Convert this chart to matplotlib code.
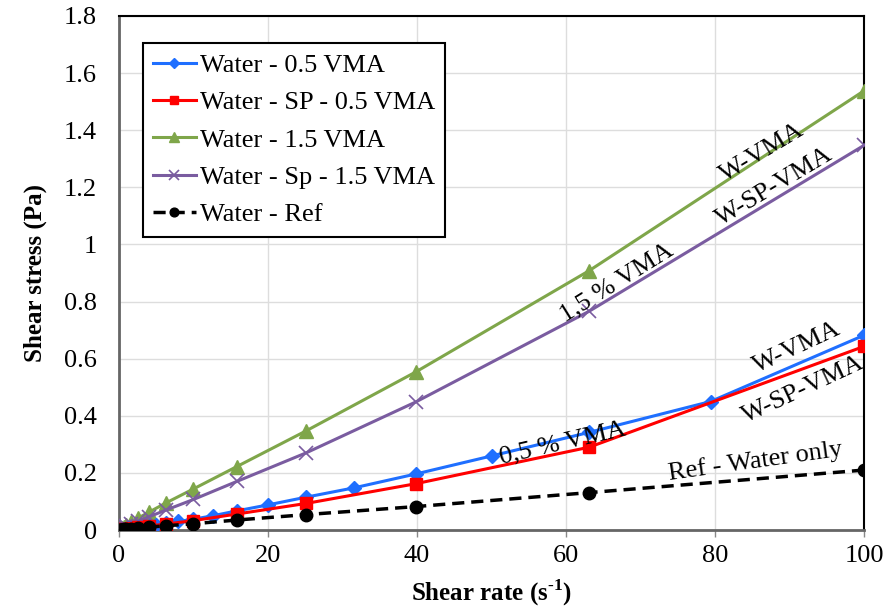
import numpy as np
import matplotlib as mpl
mpl.use('agg')
import matplotlib.pyplot as plt

plt.rcParams['font.family'] = ['Liberation Serif', 'DejaVu Serif']
plt.rcParams['mathtext.fontset'] = 'custom'
plt.rcParams['mathtext.rm'] = 'Liberation Serif'
plt.rcParams['mathtext.bf'] = 'Liberation Serif:bold'

# shear rate steps (1/s), logarithmic sweep
rate_fine = [100, 79.4, 63.1, 50.1, 39.8, 31.6, 25.1, 20.0, 15.8, 12.6, 10.0,
             7.94, 6.31, 5.01, 3.98, 3.16, 2.51, 2.0, 1.58, 1.26, 1.0,
             0.79, 0.63, 0.5, 0.4, 0.32, 0.25, 0.2, 0.16, 0.13, 0.1]
rate_coarse = [100, 63.1, 39.8, 25.1, 15.8, 10.0, 6.31, 3.98, 2.51, 1.58, 1.0,
               0.63, 0.4, 0.25, 0.16, 0.1]

w_05vma = [0.682, 0.450, 0.342, 0.260, 0.196, 0.148, 0.115, 0.088, 0.067, 0.050, 0.038,
           0.030, 0.024, 0.019, 0.015, 0.012, 0.010, 0.008, 0.007, 0.006, 0.005,
           0.004, 0.0035, 0.003, 0.0025, 0.002, 0.0018, 0.0015, 0.0012, 0.001, 0.0008]
w_sp_05vma = [0.643, 0.290, 0.162, 0.093, 0.056, 0.033, 0.021, 0.014, 0.010, 0.007, 0.005,
              0.0035, 0.0025, 0.0018, 0.0012, 0.0008]
w_15vma = [1.538, 0.908, 0.553, 0.347, 0.222, 0.144, 0.095, 0.062, 0.041, 0.027, 0.018,
           0.012, 0.008, 0.005, 0.0035, 0.0022]
w_sp_15vma = [1.347, 0.766, 0.448, 0.270, 0.170, 0.107, 0.070, 0.046, 0.030, 0.020, 0.013,
              0.009, 0.006, 0.004, 0.0025, 0.0016]
w_ref = [0.210, 0.131, 0.082, 0.054, 0.035, 0.022, 0.015, 0.010, 0.007, 0.005, 0.003,
         0.002, 0.0015, 0.001, 0.0007, 0.0005]

fig = plt.figure(figsize=(8.86, 6.1), dpi=100)
ax = fig.add_axes([0.1343, 0.1311, 0.8409, 0.8427])

ax.plot(rate_fine, w_05vma, color='#1f6fff', lw=2.2, marker='D', ms=7,
        label='Water - 0.5 VMA', zorder=4)
ax.plot(rate_coarse, w_sp_05vma, color='#ff0000', lw=2.2, marker='s', ms=9,
        label='Water - SP - 0.5 VMA', zorder=4)
ax.plot(rate_coarse, w_15vma, color='#7fa64a', lw=2.2, marker='^', ms=10,
        label='Water - 1.5 VMA', zorder=3)
ax.plot(rate_coarse, w_sp_15vma, color='#7a5ca0', lw=2.2, marker='x', ms=10, mew=1.2,
        label='Water - Sp - 1.5 VMA', zorder=3)
ax.plot(rate_coarse, w_ref, color='black', lw=2.5, ls=(0, (3.5, 2)), marker='o', ms=9,
        label='Water - Ref', zorder=5)

ax.set_xlim(0, 100)
ax.set_ylim(0, 1.8)
ax.set_xticks([0, 20, 40, 60, 80, 100])
ax.set_yticks(np.arange(0, 1.81, 0.2))
ax.set_yticklabels(['0', '0.2', '0.4', '0.6', '0.8', '1', '1.2', '1.4', '1.6', '1.8'])
ax.tick_params(labelsize=19, direction='out', length=5, color='#888888', width=1)
ax.tick_params(axis='x', pad=6)
ax.tick_params(axis='y', length=0, pad=16)
ax.grid(True, color='#dddddd', lw=1)
ax.set_axisbelow(True)

for side in ['top', 'right']:
    ax.spines[side].set_color('black')
    ax.spines[side].set_linewidth(1.5)
for side in ['left', 'bottom']:
    ax.spines[side].set_color('#666666')
    ax.spines[side].set_linewidth(2)

ax.set_xlabel('Shear rate (s$^{\\mathbf{\u2010}\\mathbf{1}}$)', fontsize=18,
              fontweight='bold', labelpad=7)
ax.set_ylabel('Shear stress (Pa)', fontsize=18, fontweight='bold', labelpad=12)

leg = ax.legend(loc='upper left', bbox_to_anchor=(0.032, 0.947), fontsize=19,
                frameon=True, fancybox=False, edgecolor='black', framealpha=1,
                handlelength=1.6, handletextpad=0.15, labelspacing=0.52,
                borderpad=0.4, borderaxespad=0, markerscale=0.7)
leg.get_frame().set_linewidth(1.5)

# curve annotations
notes = [
    ('W-VMA', 86.3, 1.32, 31),
    ('W-SP-VMA', 88, 1.20, 31),
    ('1,5 % VMA', 66.8, 0.865, 32),
    ('W-VMA', 91, 0.64, 25),
    ('W-SP-VMA', 91.8, 0.49, 25),
    ('0,5 % VMA', 59.5, 0.305, 13),
    ('Ref - Water only', 85.4, 0.242, 8),
]
for txt, x, y, rot in notes:
    ax.text(x, y, txt, fontsize=19, rotation=rot, ha='center', va='center',
            rotation_mode='anchor', zorder=6)

fig.savefig('out.png', dpi=100)
